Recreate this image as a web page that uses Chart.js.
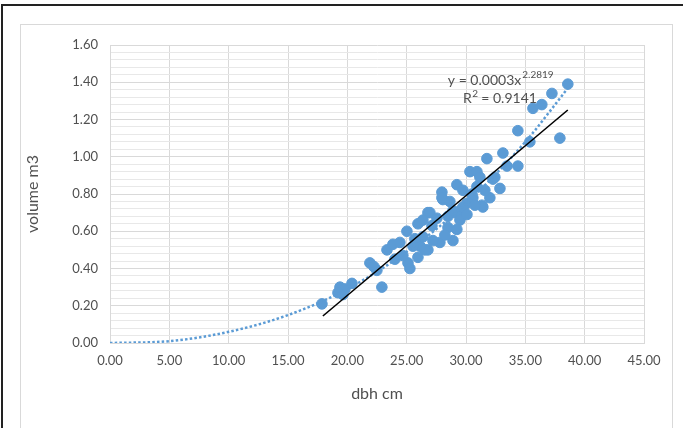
<!DOCTYPE html>
<html>
<head>
<meta charset="utf-8">
<script src="https://cdn.jsdelivr.net/npm/chart.js@4/dist/chart.umd.min.js"></script>
<style>
  html, body { margin: 0; padding: 0; background: #fff; }
  #wrap { width: 683px; height: 428px; position: relative; }
</style>
</head>
<body>
<div id="wrap"><canvas id="grafico" width="683" height="428"></canvas></div>
<script>
// datos (dbh cm / volume m3)
var dbh = [17.86, 19.38, 19.63, 19.80, 20.39, 19.21, 22.91, 21.90, 22.49, 22.24,
  23.34, 23.84, 24.43, 24.01, 25.02, 25.11, 25.27, 25.95, 26.12, 25.53,
  26.79, 26.79, 26.37, 27.80, 28.90, 28.48, 27.97, 28.05, 28.48, 29.06,
  29.49, 29.23, 29.74, 30.08, 30.58, 30.92, 31.34, 32.01, 32.86, 32.27,
  31.76, 33.11, 33.45, 34.37, 35.38, 30.33, 30.92, 31.17, 32.43, 28.64,
  31.42, 30.50, 29.74, 26.96, 28.90, 29.49, 26.37, 26.54, 38.58, 37.24,
  36.39, 35.64, 34.37, 37.91, 27.97, 25.69, 27.13, 27.55, 24.68, 25.95,
  27.21, 28.22, 29.23, 30.08, 30.75, 31.59];
var volumen = [0.21, 0.30, 0.26, 0.29, 0.32, 0.27, 0.30, 0.43, 0.39, 0.41,
  0.50, 0.53, 0.54, 0.45, 0.60, 0.43, 0.40, 0.64, 0.52, 0.52,
  0.70, 0.50, 0.57, 0.54, 0.55, 0.62, 0.81, 0.77, 0.68, 0.70,
  0.71, 0.85, 0.82, 0.75, 0.78, 0.84, 0.74, 0.78, 0.83, 0.88,
  0.99, 1.02, 0.95, 0.95, 1.08, 0.92, 0.92, 0.89, 0.89, 0.76,
  0.73, 0.80, 0.73, 0.70, 0.71, 0.66, 0.66, 0.50, 1.39, 1.34,
  1.28, 1.26, 1.14, 1.10, 0.78, 0.56, 0.63, 0.67, 0.47, 0.46,
  0.55, 0.58, 0.61, 0.69, 0.74, 0.82];

// linea de tendencia potencial (punteada)
var curvaX = [0, 5, 10, 15, 20, 25, 30, 35, 38.6];
var curvaY = [0, 0.01, 0.06, 0.15, 0.29, 0.49, 0.75, 1.08, 1.37];

// linea recta negra
var rectaX = [17.94, 38.58];
var rectaY = [0.145, 1.251];

var ecuacion = 'y = 0.0003x';
var exponente = '2.2819';
var r2texto = ['R', '2', ' = 0.9141'];

var azul = '#5b9bd5';
var gris = '#505050';

function pares(xs, ys) {
  return xs.map(function (x, i) { return { x: x, y: ys[i] }; });
}

// fondo, bordes y texto de la ecuacion
var decorado = {
  id: 'decorado',
  beforeDraw: function (chart) {
    var ctx = chart.ctx;
    ctx.save();
    ctx.fillStyle = '#fff';
    ctx.fillRect(0, 0, chart.width, chart.height);
    ctx.strokeStyle = '#d9d9d9';
    ctx.lineWidth = 1;
    ctx.strokeRect(20.5, 24.5, 652, 420);
    ctx.strokeStyle = '#222';
    ctx.lineWidth = 2;
    ctx.beginPath();
    ctx.moveTo(2, 440);
    ctx.lineTo(2, 5);
    ctx.lineTo(700, 5);
    ctx.stroke();
    ctx.restore();
  },
  afterDatasetsDraw: function (chart) {
    var ctx = chart.ctx;
    var xs = chart.scales.x, ys = chart.scales.y;
    var px = xs.getPixelForValue(28.47);
    var py = ys.getPixelForValue(1.385);
    ctx.save();
    ctx.fillStyle = gris;
    ctx.textBaseline = 'alphabetic';
    ctx.font = '14px Lato';
    ctx.fillText(ecuacion, px, py);
    var w = ctx.measureText(ecuacion).width;
    ctx.font = '10px Lato';
    ctx.fillText(exponente, px + w + 1, py - 7);
    var px2 = xs.getPixelForValue(29.74);
    var py2 = ys.getPixelForValue(1.289);
    ctx.font = '14px Lato';
    ctx.fillText(r2texto[0], px2, py2);
    var w2 = ctx.measureText(r2texto[0]).width;
    ctx.font = '10px Lato';
    ctx.fillText(r2texto[1], px2 + w2 + 0.5, py2 - 6);
    ctx.font = '14px Lato';
    ctx.fillText(r2texto[2], px2 + w2 + 6, py2);
    ctx.restore();
  }
};

var config = {
  type: 'scatter',
  data: {
    datasets: [
      {
        label: 'volume',
        data: pares(dbh, volumen),
        backgroundColor: azul,
        borderColor: azul,
        pointRadius: 5.3,
        pointHoverRadius: 5.3,
        order: 1
      },
      {
        label: 'potencial',
        type: 'line',
        data: pares(curvaX, curvaY),
        borderColor: azul,
        borderWidth: 2.5,
        borderDash: [2.5, 2.2],
        borderCapStyle: 'butt',
        cubicInterpolationMode: 'monotone',
        pointRadius: 0,
        fill: false,
        order: 0
      },
      {
        label: 'lineal',
        type: 'line',
        data: pares(rectaX, rectaY),
        borderColor: '#000',
        borderWidth: 1.6,
        pointRadius: 0,
        fill: false,
        order: -1
      }
    ]
  },
  options: {
    responsive: false,
    animation: false,
    events: [],
    layout: { padding: { left: 20, top: 45, right: 39, bottom: 0 } },
    plugins: {
      legend: { display: false },
      tooltip: { enabled: false }
    },
    scales: {
      x: {
        type: 'linear',
        min: 0,
        max: 45,
        ticks: {
          stepSize: 5,
          padding: 10,
          color: gris,
          font: { family: 'Lato', size: 13 },
          callback: function (v) { return v.toFixed(2); },
          maxRotation: 0
        },
        grid: { color: '#d9d9d9', drawTicks: false },
        border: { color: '#d9d9d9' },
        title: {
          display: true,
          text: 'dbh cm',
          color: gris,
          font: { family: 'Lato', size: 16 },
          padding: { top: 0, bottom: 25 }
        },
        afterFit: function (s) { s.height = 85; }
      },
      y: {
        type: 'linear',
        min: 0,
        max: 1.6,
        ticks: {
          stepSize: 0.04,
          autoSkip: false,
          padding: 12,
          color: gris,
          font: { family: 'Lato', size: 13 },
          callback: function (v) {
            var n = Math.round(v * 100);
            return n % 20 === 0 ? (n / 100).toFixed(2) : '';
          }
        },
        grid: {
          drawTicks: false,
          color: function (c) {
            var n = Math.round(c.tick.value * 100);
            return n % 20 === 0 ? '#d9d9d9' : '#e8e8e8';
          }
        },
        border: { color: '#d9d9d9' },
        title: {
          display: true,
          text: 'volume m3',
          color: gris,
          font: { family: 'Lato', size: 16 },
          padding: { top: 3, bottom: 0 }
        },
        afterFit: function (s) { s.width = 90; }
      }
    }
  },
  plugins: [decorado]
};

window.miGrafico = new Chart(document.getElementById('grafico'), config);
</script>
</body>
</html>
